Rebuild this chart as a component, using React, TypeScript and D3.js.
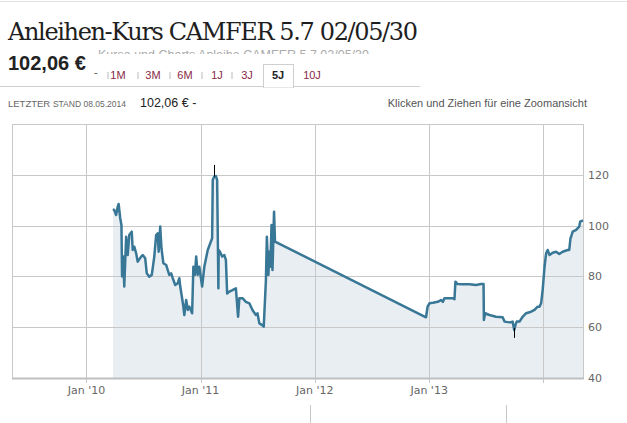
import * as d3 from "d3";

const title = "Anleihen-Kurs CAMFER 5.7 02/05/30";
const lastPrice = "102,06 €";
const lastDate = "08.05.2014";
const tabs = ["1M", "3M", "6M", "1J", "3J", "5J", "10J"];
const activeTab = "5J";

const xTicks = ["2010-01-01", "2011-01-01", "2012-01-01", "2013-01-01", "2014-01-01"];
const xTickLabels = ["Jan '10", "Jan '11", "Jan '12", "Jan '13", ""];
const yTicks = [40, 60, 80, 100, 120];

const dates = [
  "2010-03-27", "2010-03-31", "2010-04-06", "2010-04-11", "2010-04-14", "2010-04-19", "2010-04-23", "2010-04-25",
  "2010-04-29", "2010-05-02", "2010-05-08", "2010-05-13", "2010-05-18", "2010-05-26", "2010-05-29", "2010-06-03",
  "2010-06-09", "2010-06-14", "2010-06-25", "2010-06-30", "2010-07-08", "2010-07-13", "2010-07-21", "2010-07-29",
  "2010-08-06", "2010-08-12", "2010-08-17", "2010-08-20", "2010-08-25", "2010-08-29", "2010-09-04", "2010-09-13",
  "2010-09-18", "2010-09-23", "2010-09-29", "2010-10-04", "2010-10-12", "2010-10-20", "2010-10-25", "2010-10-28",
  "2010-11-03", "2010-11-07", "2010-11-10", "2010-11-16", "2010-11-21", "2010-11-26", "2010-12-05", "2010-12-09",
  "2010-12-14", "2010-12-18", "2010-12-23", "2010-12-28", "2011-01-06", "2011-01-13", "2011-01-24", "2011-02-07",
  "2011-02-09", "2011-02-14", "2011-02-19", "2011-02-23", "2011-02-27", "2011-02-28", "2011-03-04", "2011-03-11",
  "2011-03-18", "2011-03-23", "2011-03-27", "2011-04-03", "2011-04-13", "2011-04-24", "2011-04-26", "2011-05-01",
  "2011-05-05", "2011-05-15", "2011-05-26", "2011-06-06", "2011-06-16", "2011-06-27", "2011-07-02", "2011-07-08",
  "2011-07-16", "2011-07-22", "2011-07-26", "2011-07-29", "2011-08-01", "2011-08-06", "2011-08-09", "2011-08-12",
  "2011-08-16", "2011-08-19", "2011-08-24", "2011-08-27",
  "2012-12-22", "2012-12-27", "2013-01-02", "2013-01-13", "2013-01-29", "2013-02-08", "2013-02-14", "2013-02-19",
  "2013-03-17", "2013-03-23", "2013-03-26", "2013-04-02", "2013-04-18", "2013-05-10", "2013-05-31", "2013-06-16",
  "2013-06-24", "2013-06-25", "2013-06-29", "2013-07-13", "2013-08-03", "2013-08-24", "2013-08-30", "2013-09-15",
  "2013-09-25", "2013-09-30", "2013-10-04", "2013-10-08", "2013-10-17", "2013-10-27", "2013-11-07", "2013-11-23",
  "2013-12-04", "2013-12-14", "2013-12-20", "2013-12-25", "2013-12-30", "2014-01-05", "2014-01-10", "2014-01-15",
  "2014-01-21", "2014-01-31", "2014-02-11", "2014-02-21", "2014-03-04", "2014-03-20", "2014-03-25", "2014-03-29",
  "2014-03-31", "2014-04-05", "2014-04-16", "2014-04-26", "2014-04-29", "2014-05-08",
];
const prices = [
  106.5, 106.1, 104.2, 107.4, 108.5, 103, 100.2, 80,
  87.8, 76, 95.6, 88.4, 96.3, 97.6, 90.4, 91.7,
  89.1, 85.8, 87.8, 88.4, 87.1, 81.2, 79.9, 80.6,
  87.8, 96.3, 97, 89.7, 99.6, 91.1, 85.2, 84.5,
  82.5, 80.6, 81.2, 79.3, 76.6, 77.3, 79.3, 76,
  71.4, 68, 64.8, 70.7, 66.8, 68.1, 65.5, 83.8,
  80.6, 87.8, 80.6, 83.8, 76, 83.8, 90.4, 95,
  118, 119.3, 119.5, 118, 75.3, 90.4, 89.7, 87.8,
  88.4, 86.5, 73.3, 74, 74.6, 75.3, 72, 64.1,
  71.4, 71.4, 70, 69.4, 66.8, 64.8, 65.5, 61.5,
  60.9, 60.2, 70.7, 78.6, 95.6, 80.6, 89.7, 83.8,
  100.2, 82.5, 105.5, 93.7,
  63.9, 68.1, 69.4, 69.6, 70, 70.7, 70, 71.4,
  71.4, 71, 77.9, 77, 76.9, 76.9, 76.6, 77,
  77, 62.8, 65.5, 64.8, 64.1, 63.9, 62.2, 61.9,
  62.2, 58.9, 60.9, 62.2, 62.2, 64.1, 65.5, 66.1,
  66.8, 68.1, 68.1, 69.4, 74.6, 83.8, 89.1, 90.4,
  88.4, 89.3, 89.7, 88.8, 89.7, 90.4, 90.4, 95,
  95.6, 97.6, 98.3, 99.6, 101.6, 102.06,
];

// intraday extremes drawn as black ticks
const extremeDates = ["2011-02-12", "2013-09-30"];
const extremeHigh = [123.9, 59.7];
const extremeLow = [119.3, 55.8];

const parse = d3.timeParse("%Y-%m-%d");

export default function App() {
  const W = 627;
  const H = 423;
  const left = 12;
  const right = 583;
  const top = 124;
  const bottom = 378;

  const x = d3
    .scaleTime()
    .domain([parse("2009-05-08")!, parse("2014-05-08")!])
    .range([left, right]);
  const y = d3.scaleLinear().domain([40, 140]).range([bottom, top]);

  const data = dates.map((d, i) => ({ date: parse(d)!, value: prices[i] }));

  const line = d3
    .line<{ date: Date; value: number }>()
    .x((d) => x(d.date))
    .y((d) => y(d.value));
  const area = d3
    .area<{ date: Date; value: number }>()
    .x((d) => x(d.date))
    .y0(bottom)
    .y1((d) => y(d.value));

  const sans = "'Liberation Sans', Arial, sans-serif";
  const axisFont = "'DejaVu Sans', sans-serif";
  const tabX = [118, 153, 185, 217, 247, 278, 312];
  const sepX = [108, 138, 170, 202, 232];

  return (
    <svg
      width={W}
      height={H}
      style={{ position: "absolute", left: 0, top: 0, background: "#fff" }}
    >
      <line x1={0} x2={W} y1={1.5} y2={1.5} stroke="#e2e2e2" />
      <text x={8} y={40} fontFamily="'DejaVu Serif', Georgia, serif" fontSize={24} fill="#1e1e1e" textLength={410}>
        {title}
      </text>

      {/* faded subtitle partially hidden behind the tab bar */}
      <text x={98} y={59} fontFamily={sans} fontSize={12.5} fill="#aaa">
        Kurse und Charts Anleihe CAMFER 5.7 02/05/30
      </text>
      <rect x={92} y={54} width={340} height={32} fill="#fff" />

      <text x={8} y={70} fontFamily={sans} fontWeight="bold" fontSize={20} fill="#222">
        {lastPrice}
      </text>
      <text x={94} y={76} fontFamily={sans} fontSize={11} fill="#555">-</text>

      <line x1={0} x2={420} y1={86.5} y2={86.5} stroke="#cfcfcf" />
      {sepX.map((sx) => (
        <line key={sx} x1={sx} x2={sx} y1={72} y2={79} stroke="#bbb" />
      ))}
      <rect x={263.5} y={64.5} width={30} height={23} fill="#fff" stroke="#cfcfcf" />
      <line x1={264} x2={293} y1={86.5} y2={86.5} stroke="#fff" strokeWidth={2} />
      {tabs.map((t, i) => (
        <text
          key={t}
          x={tabX[i]}
          y={79}
          textAnchor="middle"
          fontFamily={sans}
          fontSize={11}
          fill={t === activeTab ? "#222" : "#8a2846"}
          fontWeight={t === activeTab ? "bold" : "normal"}
        >
          {t}
        </text>
      ))}

      <text x={8} y={107} fontFamily={sans} fill="#666">
        <tspan fontSize={9.5}>LETZTER </tspan>
        <tspan fontSize={8.5}>STAND {lastDate}</tspan>
      </text>
      <text x={140} y={107} fontFamily={sans} fontSize={12.5} fill="#222">
        {lastPrice} -
      </text>
      <text x={587} y={107} textAnchor="end" fontFamily={sans} fontSize={11} fill="#555">
        Klicken und Ziehen für eine Zoomansicht
      </text>

      {/* plot */}
      <path d={area(data) ?? ""} fill="#e9eef3" />
      {yTicks.map((t) => (
        <line key={t} x1={left} x2={right} y1={Math.round(y(t)) + 0.5} y2={Math.round(y(t)) + 0.5} stroke="#c8c8c8" />
      ))}
      {xTicks.map((t) => {
        const px = Math.round(x(parse(t)!)) + 0.5;
        return <line key={t} x1={px} x2={px} y1={top} y2={bottom + 5} stroke="#c8c8c8" />;
      })}
      <rect x={left + 0.5} y={top + 0.5} width={right - left} height={bottom - top} fill="none" stroke="#c8c8c8" />
      <line x1={left} x2={right + 1} y1={bottom + 0.5} y2={bottom + 0.5} stroke="#bfbfbf" strokeWidth={2} />

      <path d={line(data) ?? ""} fill="none" stroke="#397796" strokeWidth={2.5} strokeLinejoin="round" />
      {extremeDates.map((d, i) => {
        const px = Math.round(x(parse(d)!)) + 0.5;
        return <line key={d} x1={px} x2={px} y1={y(extremeHigh[i])} y2={y(extremeLow[i])} stroke="#000" />;
      })}

      {xTicks.map((t, i) => (
        <text key={t} x={x(parse(t)!)} y={394} textAnchor="middle" fontFamily={axisFont} fontSize={11} fill="#666">
          {xTickLabels[i]}
        </text>
      ))}
      {yTicks.map((t) => (
        <text key={t} x={588} y={y(t) + 4} fontFamily={axisFont} fontSize={11} fill="#666">
          {t}
        </text>
      ))}

      {/* navigator handles peeking in at the bottom */}
      <line x1={310.5} x2={310.5} y1={405} y2={H} stroke="#c8c8c8" />
      <line x1={506.5} x2={506.5} y1={405} y2={H} stroke="#c8c8c8" />
    </svg>
  );
}
